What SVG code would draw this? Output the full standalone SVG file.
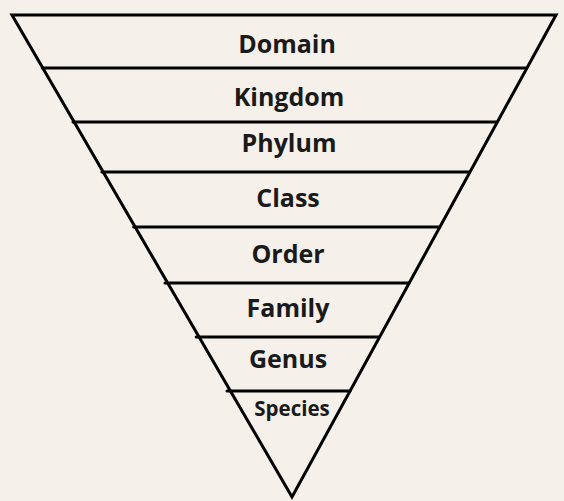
<svg xmlns="http://www.w3.org/2000/svg" width="564" height="501" viewBox="0 0 564 501">
<style>
.ln{stroke:#000;stroke-width:3;fill:none;stroke-linecap:round;stroke-linejoin:miter}
.t{font-family:"Open Sans","Liberation Sans",sans-serif;font-weight:bold;font-size:25px;fill:#1a1a1a;text-anchor:middle}
.s{font-size:20.5px}
</style>
<rect width="564" height="501" fill="#f6f0ea"/>
<g id="connectors">
<polygon class="ln" points="12,15 556,15 292,497"/>
<line class="ln" x1="42.3" y1="68" x2="526.7" y2="68"/>
<line class="ln" x1="73" y1="122" x2="497" y2="122"/>
<line class="ln" x1="101.9" y1="172" x2="469.5" y2="172"/>
<line class="ln" x1="133.7" y1="227" x2="439.4" y2="227"/>
<line class="ln" x1="165" y1="283" x2="409" y2="283"/>
<line class="ln" x1="196.2" y1="337" x2="379" y2="337"/>
<line class="ln" x1="227" y1="391" x2="350" y2="391"/>
</g>
<g id="domain"><text class="t" x="287" y="53">Domain</text></g>
<g id="kingdom"><text class="t" x="289" y="106">Kingdom</text></g>
<g id="phylum"><text class="t" x="289" y="152">Phylum</text></g>
<g id="class"><text class="t" x="288" y="207">Class</text></g>
<g id="order"><text class="t" x="288" y="263">Order</text></g>
<g id="family"><text class="t" x="288" y="317">Family</text></g>
<g id="genus"><text class="t" x="288" y="368">Genus</text></g>
<g id="species"><text class="t s" x="292" y="416">Species</text></g>
</svg>
